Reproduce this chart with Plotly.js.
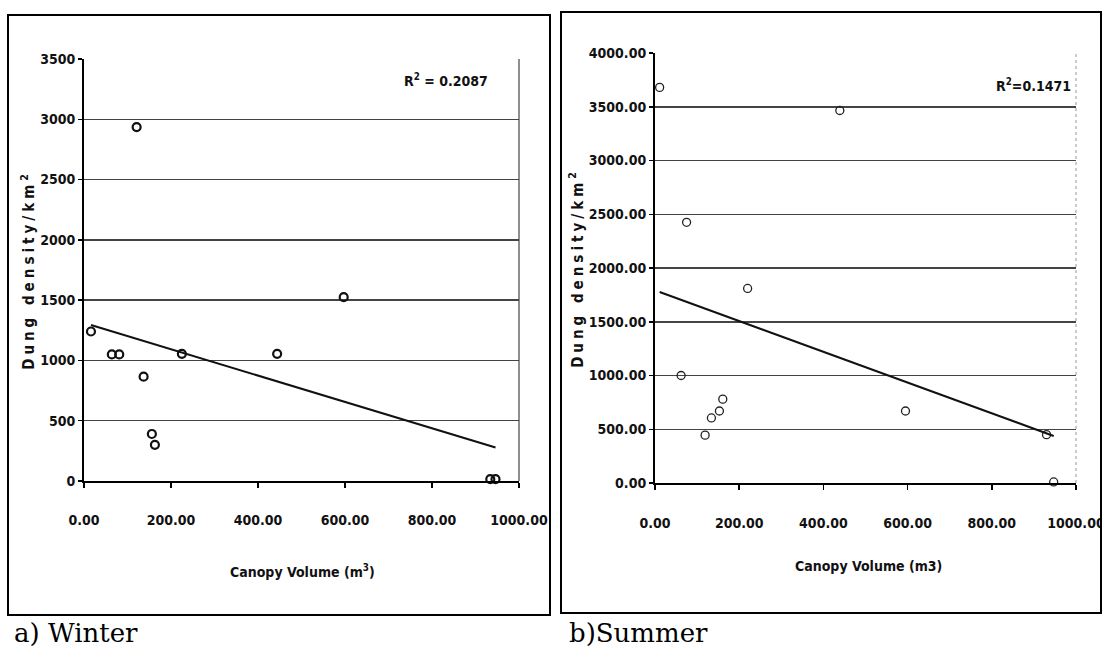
<!DOCTYPE html>
<html>
<head>
<meta charset="utf-8">
<script src="https://cdn.plot.ly/plotly-3.0.1.min.js"></script>
<style>
  html, body { margin: 0; padding: 0; background: #fff; }
  #chart { width: 1102px; height: 647px; }
  .ytitle, .y2title { letter-spacing: 4px; }
</style>
</head>
<body>
<div id="chart"></div>
<script>
// ---- data ----
const winterCanopy = [16, 64, 81, 121, 137, 156, 163, 225, 444, 597, 934, 946];
const winterDung   = [1240, 1050, 1050, 2935, 865, 390, 300, 1055, 1055, 1525, 15, 15];
const summerCanopy = [11, 62, 75, 119, 134, 153, 161, 220, 439, 595, 930, 947];
const summerDung   = [3680, 1000, 2425, 445, 605, 670, 780, 1810, 3465, 670, 450, 10];

const xTickVals = [0, 200, 400, 600, 800, 1000];
const winterYTicks = [0, 500, 1000, 1500, 2000, 2500, 3000, 3500];
const summerYTicks = [0, 500, 1000, 1500, 2000, 2500, 3000, 3500, 4000];
const winterR2Label = "R<sup>2</sup> = 0.2087";
const summerR2Label = "R<sup>2</sup>=0.1471";
const captions = ["a) Winter", "b)Summer"];
const yTitle = "Dung density/km<sup>2</sup>";
const xTitleWinter = "Canopy Volume (m<sup>3</sup>)";
const xTitleSummer = "Canopy Volume (m3)";

// least-squares trend line drawn between the smallest and largest x
function trend(xs, ys) {
  const n = xs.length;
  const mx = xs.reduce((a, b) => a + b, 0) / n;
  const my = ys.reduce((a, b) => a + b, 0) / n;
  let sxy = 0, sxx = 0;
  for (let i = 0; i < n; i++) { sxy += (xs[i] - mx) * (ys[i] - my); sxx += (xs[i] - mx) ** 2; }
  const b = sxy / sxx, a = my - b * mx;
  const x0 = Math.min(...xs), x1 = Math.max(...xs);
  return { x: [x0, x1], y: [a + b * x0, a + b * x1] };
}

const W = 1102, H = 647;
const px = v => v / W;
const py = v => 1 - v / H;

const FONT = '"DejaVu Sans Condensed", "Liberation Sans Narrow", "Arial Narrow", "DejaVu Sans", sans-serif';
const SERIF = '"DejaVu Serif", "Liberation Serif", serif';
const tickFont = { family: FONT, size: 14, color: '#111', weight: 'bold' };
const labFont = { family: FONT, size: 14, color: '#111', weight: 'bold' };

const tw = trend(winterCanopy, winterDung);
const ts = trend(summerCanopy, summerDung);

const data = [
  { x: winterCanopy, y: winterDung, type: 'scatter', mode: 'markers', xaxis: 'x', yaxis: 'y',
    marker: { symbol: 'circle-open', size: 8, color: '#111', line: { width: 2.2, color: '#111' } },
    cliponaxis: false, showlegend: false, hoverinfo: 'x+y' },
  { x: tw.x, y: tw.y, type: 'scatter', mode: 'lines', xaxis: 'x', yaxis: 'y',
    line: { color: '#111', width: 2 }, showlegend: false, hoverinfo: 'skip' },
  { x: summerCanopy, y: summerDung, type: 'scatter', mode: 'markers', xaxis: 'x2', yaxis: 'y2',
    marker: { symbol: 'circle-open', size: 8, color: '#222', line: { width: 1.3, color: '#222' } },
    cliponaxis: false, showlegend: false, hoverinfo: 'x+y' },
  { x: ts.x, y: ts.y, type: 'scatter', mode: 'lines', xaxis: 'x2', yaxis: 'y2',
    line: { color: '#111', width: 2 }, showlegend: false, hoverinfo: 'skip' }
];

function xAxis(dom, anchor, standoff) {
  return {
    domain: dom, anchor: anchor, range: [0, 1000], tickvals: xTickVals, tickformat: '.2f',
    showgrid: false, zeroline: false, showline: true, linecolor: '#000', linewidth: 2,
    ticks: 'outside', ticklen: 5, tickwidth: 1.5, tickcolor: '#000',
    tickfont: tickFont, ticklabelstandoff: standoff, ticklabeloverflow: 'allow', fixedrange: true
  };
}
function yAxis(dom, anchor, range, ticks, fmt, titleText) {
  return {
    domain: dom, anchor: anchor, range: range, tickvals: ticks, tickformat: fmt,
    showgrid: true, gridcolor: '#444', gridwidth: 1.5,
    zeroline: false, showline: true, linecolor: '#000', linewidth: 2,
    ticks: 'outside', ticklen: 4, tickwidth: 1.5, tickcolor: '#000',
    tickfont: tickFont, fixedrange: true,
    title: { text: titleText, font: { family: FONT, size: 15, color: '#111', weight: 'bold' }, standoff: 2 }
  };
}

const layout = {
  width: W, height: H,
  margin: { l: 0, r: 0, t: 0, b: 0 },
  paper_bgcolor: '#fff', plot_bgcolor: '#fff',
  showlegend: false,
  xaxis: xAxis([px(84), px(519)], 'y', 20),
  yaxis: yAxis([py(481), py(59)], 'x', [0, 3500], winterYTicks, 'd', yTitle),
  xaxis2: xAxis([px(655), px(1076)], 'y2', 21),
  yaxis2: yAxis([py(483), py(53)], 'x2', [0, 4000], summerYTicks, '.2f', yTitle),
  shapes: [
    // panel frames
    { type: 'rect', xref: 'paper', yref: 'paper', x0: px(8), x1: px(550), y0: py(615), y1: py(15),
      line: { color: '#000', width: 2 } },
    { type: 'rect', xref: 'paper', yref: 'paper', x0: px(561), x1: px(1101), y0: py(613), y1: py(12),
      line: { color: '#000', width: 2 } },
    // plot-area right edges
    { type: 'line', xref: 'x domain', yref: 'y domain', x0: 1, x1: 1, y0: 0, y1: 1,
      line: { color: '#444', width: 1.2 } },
    { type: 'line', xref: 'x2 domain', yref: 'y2 domain', x0: 1, x1: 1, y0: 0, y1: 1,
      line: { color: '#999', width: 1, dash: 'dot' } }
  ],
  annotations: [
    { text: winterR2Label, xref: 'paper', yref: 'paper', x: px(490), y: py(80), xanchor: 'right', yanchor: 'middle',
      showarrow: false, font: labFont },
    { text: summerR2Label, xref: 'paper', yref: 'paper', x: px(1073), y: py(85), xanchor: 'right', yanchor: 'middle',
      showarrow: false, font: labFont },
    { text: xTitleWinter, xref: 'paper', yref: 'paper', x: px(302), y: py(571), xanchor: 'center', yanchor: 'middle',
      showarrow: false, font: labFont },
    { text: xTitleSummer, xref: 'paper', yref: 'paper', x: px(868), y: py(566), xanchor: 'center', yanchor: 'middle',
      showarrow: false, font: labFont },
    { text: captions[0], xref: 'paper', yref: 'paper', x: px(12), y: py(633), xanchor: 'left', yanchor: 'middle',
      showarrow: false, font: { family: SERIF, size: 26, color: '#000' } },
    { text: captions[1], xref: 'paper', yref: 'paper', x: px(567), y: py(633), xanchor: 'left', yanchor: 'middle',
      showarrow: false, font: { family: SERIF, size: 26, color: '#000' } }
  ]
};

Plotly.newPlot('chart', data, layout, { displayModeBar: false, staticPlot: true });
</script>
</body>
</html>
